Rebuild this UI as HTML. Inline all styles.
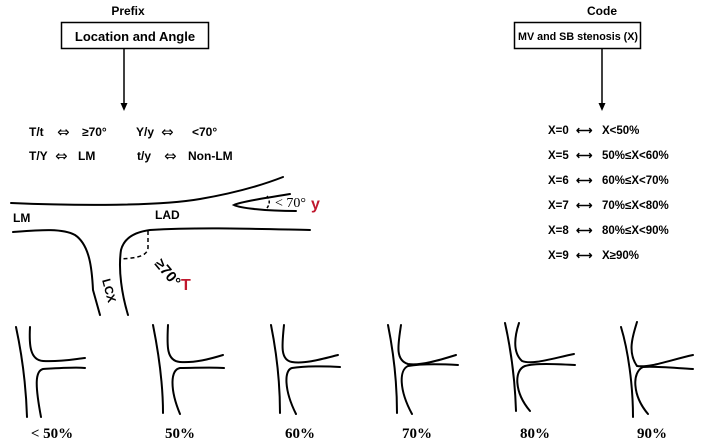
<!DOCTYPE html>
<html><head><meta charset="utf-8"><style>
html,body{margin:0;padding:0;background:#fff;}
svg{display:block;}
text{font-family:"Liberation Sans",sans-serif;font-weight:bold;fill:#000;}
text.ser{font-family:"Liberation Serif",serif;}
text.dv{font-family:"DejaVu Sans",sans-serif;font-weight:normal;}
.s{fill:none;stroke:#000;stroke-width:2;stroke-linecap:round;}
</style></head><body>
<svg width="705" height="444" viewBox="0 0 705 444" xmlns="http://www.w3.org/2000/svg">
<!-- Prefix -->
<text x="128" y="15" font-size="12" text-anchor="middle">Prefix</text>
<rect x="61.5" y="22.5" width="147" height="26" fill="#fff" stroke="#000" stroke-width="1.5"/>
<text x="135" y="41" font-size="13" text-anchor="middle">Location and Angle</text>
<line x1="124" y1="49" x2="124" y2="104" stroke="#000" stroke-width="1.5"/>
<polygon points="120.5,103 127.5,103 124,111" fill="#000"/>
<!-- Code -->
<text x="602" y="15" font-size="12" text-anchor="middle">Code</text>
<rect x="514.5" y="22.5" width="126" height="26" fill="#fff" stroke="#000" stroke-width="1.5"/>
<text x="518" y="40" font-size="11" textLength="120" lengthAdjust="spacingAndGlyphs">MV and SB stenosis (X)</text>
<line x1="602" y1="49" x2="602" y2="104" stroke="#000" stroke-width="1.5"/>
<polygon points="598.5,103 605.5,103 602,111" fill="#000"/>
<!-- left rules -->
<g font-size="12">
<text x="29" y="136">T/t</text><text class="dv" x="57" y="137" font-size="15">⇔</text><text x="82" y="136">≥70°</text>
<text x="136" y="136">Y/y</text><text class="dv" x="161" y="137" font-size="15">⇔</text><text x="192" y="136">&lt;70°</text>
<text x="29" y="160">T/Y</text><text class="dv" x="55" y="161" font-size="15">⇔</text><text x="78" y="160">LM</text>
<text x="137" y="160">t/y</text><text class="dv" x="164" y="161" font-size="15">⇔</text><text x="188" y="160">Non-LM</text>
</g>
<!-- right rules -->
<g font-size="11.5">
<text x="548" y="134">X=0</text><text x="576" y="134">⟷</text><text x="602" y="134">X&lt;50%</text>
<text x="548" y="159">X=5</text><text x="576" y="159">⟷</text><text x="602" y="159">50%≤X&lt;60%</text>
<text x="548" y="184">X=6</text><text x="576" y="184">⟷</text><text x="602" y="184">60%≤X&lt;70%</text>
<text x="548" y="209">X=7</text><text x="576" y="209">⟷</text><text x="602" y="209">70%≤X&lt;80%</text>
<text x="548" y="234">X=8</text><text x="576" y="234">⟷</text><text x="602" y="234">80%≤X&lt;90%</text>
<text x="548" y="259">X=9</text><text x="576" y="259">⟷</text><text x="602" y="259">X≥90%</text>
</g>
<!-- vessel diagram -->
<path class="s" d="M11,203 C80,206 160,206 200,199 C235,193 260,186 283,177"/>
<path class="s" d="M290,194 C265,198 240,202 234,205 C240,208 265,211 296,211"/>
<path class="s" d="M13,232 C40,230 62,228 75,235 C90,245 92,270 93,290 L100,315"/>
<path class="s" d="M128,315 C122,295 118,270 121,250 C124,238 135,232 150,230 C200,227 260,229 310,230"/>
<path d="M148,231 L148,248 C147,256 138,258 120,259" fill="none" stroke="#000" stroke-width="1.5" stroke-dasharray="4,3"/>
<path d="M267,196 C270,200 270,204 267,208" fill="none" stroke="#000" stroke-width="1.5" stroke-dasharray="3,2"/>
<text x="13" y="222" font-size="12">LM</text>
<text x="155" y="219" font-size="12">LAD</text>
<text x="0" y="0" font-size="12" transform="translate(102,280) rotate(75)">LCX</text>
<text x="0" y="0" font-size="15" transform="translate(154,264) rotate(50)">≥70°</text>
<text x="181" y="290" font-size="16" style="fill:#c0182e">T</text>
<text x="275" y="207" font-size="14" class="ser" style="font-weight:normal">&lt; 70°</text>
<text x="311" y="209" font-size="16" style="fill:#c0182e">y</text>
<!-- panels -->
<g class="s">
<path d="M16,327 C22,355 26,385 27,417"/>
<path d="M30,327 C29,345 30,360 43,361 C60,362 75,359 85,358"/>
<path d="M85,368 C75,367 60,368 43,369 C35,371 35,385 41,417"/>
<path d="M153,325 C159,355 163,385 163,413"/>
<path d="M168,325 C167,345 166,361 180,362 C195,363 210,359 223,355"/>
<path d="M224,368 C210,367 195,368 180,368 C170,370 170,390 180,414"/>
<path d="M271,325 C277,355 280,385 280,413"/>
<path d="M284,325 C282,345 280,360 292,362 C305,364 322,359 338,355"/>
<path d="M340,367 C325,366 305,366 292,368 C284,370 284,390 296,414"/>
<path d="M388,325 C394,355 397,385 397,413"/>
<path d="M401,325 C398,345 395,360 408,364 C420,366 440,360 456,355"/>
<path d="M458,365 C440,364 420,364 408,366 C399,370 399,390 412,414"/>
<path d="M505,323 C511,350 515,380 516,411"/>
<path d="M519,323 C515,335 512,352 522,361 C532,365 550,359 574,354"/>
<path d="M575,365 C555,364 535,363 525,366 C514,370 514,392 530,411"/>
<path d="M621,327 C628,350 633,385 633,417"/>
<path d="M637,322 C633,335 627,352 637,366 C650,368 670,360 693,355"/>
<path d="M693,369 C675,368 655,366 643,367 C632,372 632,395 648,414"/>
</g>
<g font-size="15" text-anchor="middle">
<text class="ser" x="52" y="438">&lt; 50%</text>
<text class="ser" x="180" y="438">50%</text>
<text class="ser" x="300" y="438">60%</text>
<text class="ser" x="417" y="438">70%</text>
<text class="ser" x="535" y="438">80%</text>
<text class="ser" x="652" y="438">90%</text>
</g>
</svg>
</body></html>
